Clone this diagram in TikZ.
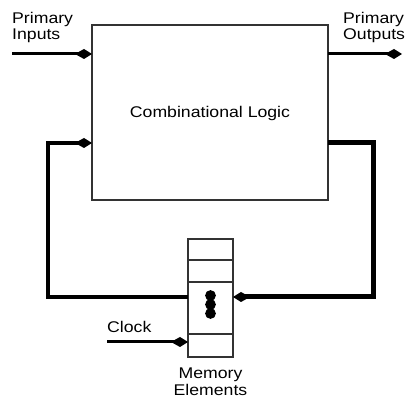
\documentclass[tikz,border=0pt]{standalone}
\usepackage{fontspec}
\setmainfont{Liberation Sans}[FakeStretch=1.14]
\usetikzlibrary{arrows.meta,positioning}

\begin{document}
\begin{tikzpicture}[x=1pt,y=-1pt,
  block/.style={
    rectangle,draw=black!80,line width=1.2pt,
    inner sep=0pt,outer sep=0pt
  },
  cell/.style={block,minimum width=45pt},
  wire/.style={-{Kite[length=17pt 0,width=10pt 0,inset=9pt 0]},line width=3pt},
  tag/.style={align=left,inner sep=0pt,font=\fontsize{15.5}{16.5}\selectfont}
]
\useasboundingbox (0,0) rectangle (405,403);

\node[block,minimum width=236pt,minimum height=175pt] (logic) at (210,112.5) {};
\node[tag,anchor=base] (logictext) at (logic.center |- 0,118) {Combinational Logic};

% stack of memory cells
\node[cell,minimum height=21pt] (mem1) at (210.5,249.5) {};
\node[cell,minimum height=22pt,below=0pt of mem1] (mem2) {};
\node[cell,minimum height=52pt,below=0pt of mem2] (mem3) {};
\node[cell,minimum height=23pt,below=0pt of mem3] (mem4) {};
\foreach \y in {295.5,304.5,313.5}
  \fill (210.5,\y) circle (5.4pt);

\node[tag,anchor=north west] (intext) at (12,12) {Primary\\Inputs};
\node[tag,anchor=north west] (outtext) at (343,12) {Primary\\Outputs};
\node[tag,anchor=base west] (clktext) at (107,333) {Clock};
\node[tag,align=center,anchor=north] (memtext) at (210.5,368) {Memory\\Elements};

\coordinate (in) at (12,54);
\coordinate (out) at (402,54);
\coordinate (clk) at (107,342);
\coordinate (rtop) at (373,143);
\coordinate (rbot) at (373,297);
\coordinate (ltop) at (48,143);
\coordinate (lbot) at (48,297);

\draw[wire] (in) -- (in -| logic.west);
\draw[wire] (out -| logic.east) -- (out);
\draw[wire] (clk) -- (clk -| mem4.west);
\draw[wire,line width=5pt] (rtop -| logic.east) -- (rtop) -- (rbot) -- (rbot -| mem3.east);
\draw[wire,line width=3.4pt] (lbot -| mem3.west) -- (lbot) -- (ltop) -- (ltop -| logic.west);

\end{tikzpicture}
\end{document}
